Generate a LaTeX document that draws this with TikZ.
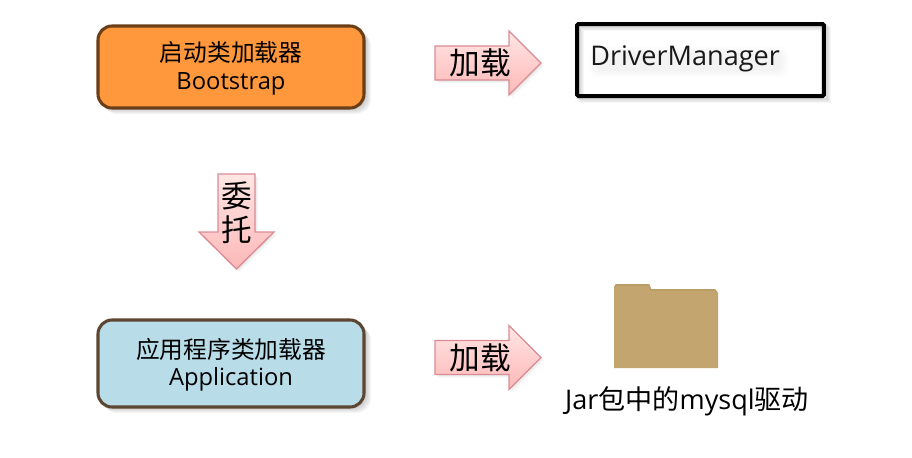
\documentclass[tikz,border=0pt]{standalone}
\usepackage{fontspec}
\setmainfont{Open Sans}
\newfontfamily\cjk{Noto Sans CJK SC}
\usetikzlibrary{calc}
\definecolor{orangefill}{HTML}{FF983D}
\definecolor{brownline}{HTML}{6A3E17}
\definecolor{bluefill}{HTML}{B8DDE9}
\definecolor{blueline}{HTML}{5C4632}
\definecolor{arrowline}{HTML}{D98C94}
\definecolor{arrowlight}{HTML}{FFE6E4}
\definecolor{arrowdark}{HTML}{FDB8B8}
\definecolor{foldertan}{HTML}{C3A56F}
\definecolor{foldertop}{HTML}{B89A62}
\tikzset{
  x=0.75pt, y=-0.75pt,
  loaderbox/.style={rounded corners=10.5pt, line width=2.3pt, minimum width=199.5pt, inner sep=0pt},
  loadertext/.style={align=center, inner sep=0pt, font=\fontsize{17.8pt}{20.5pt}\selectfont},
  softshadow/.style={draw=none, fill=black, fill opacity=0.035},
  blockarrow/.style={draw=arrowline, line width=1pt, line join=miter, top color=arrowlight, bottom color=arrowdark},
  arrowtext/.style={font=\cjk\fontsize{23pt}{28pt}\selectfont, inner sep=0pt},
  caption/.style={font=\fontsize{20.3pt}{24pt}\selectfont, inner sep=0pt}
}
% right-pointing block arrow: left end x, centre y
\newcommand{\rightblock}[2]{%
  \foreach \s in {1,2,3}
    \fill[black, fill opacity=0.03] (#1+\s,#2-17+\s) -- ++(74,0) -- ++(0,-15) -- (#1+106+\s,#2+\s) -- (#1+74+\s,#2+32+\s) -- ++(0,-15) -- (#1+\s,#2+17+\s) -- cycle;
  \path[blockarrow] (#1,#2-17) -- ++(74,0) -- ++(0,-15) -- (#1+106,#2) -- (#1+74,#2+32) -- ++(0,-15) -- (#1,#2+17) -- cycle;
}
\begin{document}
\begin{tikzpicture}
\useasboundingbox (0,0) rectangle (912,457);
\fill[white] (0,0) rectangle (912,457);

% soft shadows under the loader boxes
\foreach \s in {1,2,3,4,5,6}{
  \fill[softshadow, rounded corners=10.5pt] (97+\s,26+\s) rectangle (365+\s,108+\s);
  \fill[softshadow, rounded corners=10.5pt] (97+\s,320+\s) rectangle (365+\s,407+\s);
}

\node[loaderbox, draw=brownline, fill=orangefill, minimum height=61.5pt] (boot) at (231,67) {};
\node[loadertext] (boottext) at (231,68.5) {{\cjk 启动类加载器}\\Bootstrap};
\node[loaderbox, draw=blueline, fill=bluefill, minimum height=65.25pt] (app) at (231,363.5) {};
\node[loadertext] (apptext) at (231,364.5) {{\cjk 应用程序类加载器}\\Application};

% load arrows
\rightblock{435}{63}
\node[arrowtext] (loadtop) at (480,63) {加载};
\rightblock{435}{357.5}
\node[arrowtext] (loadbottom) at (480,358) {加载};

% delegation arrow
\foreach \s in {1,2,3}
  \fill[black, fill opacity=0.03] (218+\s,174+\s) -- (255+\s,174+\s) -- (255+\s,232+\s) -- (274+\s,232+\s) -- (236.5+\s,269+\s) -- (199+\s,232+\s) -- (218+\s,232+\s) -- cycle;
\path[blockarrow] (218,174) -- (255,174) -- (255,232) -- (274,232) -- (236.5,269) -- (199,232) -- (218,232) -- cycle;
\node[arrowtext] (delegate1) at (237,195.5) {委};
\node[arrowtext] (delegate2) at (237,229.5) {托};

% DriverManager box with its soft inner and outer shadow
\foreach \s in {1,2,3,4,5}
  \draw[black, opacity=0.035, line width=3pt] (577+\s,24+\s) rectangle (824+\s,96+\s);
\foreach \s in {0,2,4,6}
  \fill[black, fill opacity=0.01, rounded corners=6pt] (596-\s,53-\s) rectangle (782+\s,71+\s);
\node[draw=black, line width=3pt, rounded corners=1pt, minimum width=185pt, minimum height=54pt, inner sep=0pt] (dm) at (700.5,60) {};
\node[caption, anchor=west, text=black!90] (dmtext) at (590,59) {DriverManager};

% folder icon
\fill[foldertan] (614,368) -- (614,287) -- (616,284) -- (649,284) -- (651,289) -- (715,289) -- (718,293) -- (718,368) -- cycle;
\draw[foldertop, line width=0.8pt] (615,287) -- (616,285) -- (649,285) -- (651,290) -- (715,290) -- (717,293);
\node[caption, anchor=center] (jar) at (687,401)
  {Jar{\cjk 包中的}mysql{\cjk 驱动}};
\end{tikzpicture}
\end{document}
